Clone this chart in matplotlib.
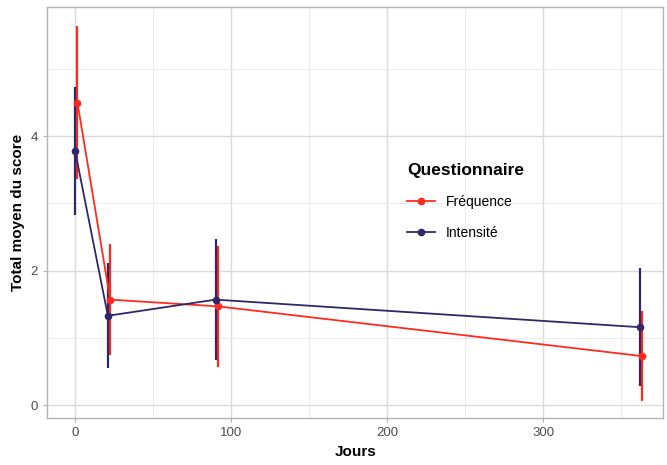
import numpy as np
import matplotlib
matplotlib.use("Agg")
import matplotlib.pyplot as plt

plt.rcParams['font.family'] = ['Liberation Sans', 'DejaVu Sans']

# days
jours = [0, 21, 90, 362]

freq_mean = [4.50, 1.57, 1.47, 0.73]
freq_err = [1.14, 0.83, 0.90, 0.67]

int_mean = [3.78, 1.33, 1.57, 1.16]
int_err = [0.95, 0.78, 0.90, 0.88]

red = '#FF2A1F'
navy = '#2E2966'

fig = plt.figure(figsize=(6.67, 4.65), dpi=100)
ax = fig.add_axes([0.0705, 0.101, 0.924, 0.884])

ax.set_xlim(-18, 377)
ax.set_ylim(-0.19, 5.92)

ax.set_xticks([0, 100, 200, 300])
ax.set_xticks([50, 150, 250, 350], minor=True)
ax.set_yticks([0, 2, 4])
ax.set_yticks([1, 3, 5], minor=True)

ax.grid(which='major', color='#DADADA', lw=1.0)
ax.grid(which='minor', color='#EBEBEB', lw=0.7)
ax.set_axisbelow(True)
for s in ax.spines.values():
    s.set_color('#B3B3B3')
    s.set_linewidth(1.0)
ax.tick_params(which='major', length=3, color='#B3B3B3', labelsize=9.5, labelcolor='#4D4D4D')
ax.tick_params(which='minor', length=0)

# error bars first, then lines
ax.errorbar(np.array(jours) + 1.5, freq_mean, yerr=freq_err, fmt='none', ecolor=red, elinewidth=1.6, capsize=0, zorder=2)
ax.errorbar(jours, int_mean, yerr=int_err, fmt='none', ecolor=navy, elinewidth=1.6, capsize=0, zorder=2)
ax.plot(np.array(jours) + 1.5, freq_mean, color=red, lw=1.3, marker='o', ms=4.5, label='Fréquence', zorder=3)
ax.plot(jours, int_mean, color=navy, lw=1.3, marker='o', ms=4.5, label='Intensité', zorder=3)

ax.set_xlabel('Jours', fontsize=11, fontweight='bold', labelpad=4)
ax.set_ylabel('Total moyen du score', fontsize=11, fontweight='bold', labelpad=4)

leg = ax.legend(title='Questionnaire', loc='upper left', bbox_to_anchor=(0.575, 0.635),
                frameon=False, fontsize=10, title_fontsize=12.5, handlelength=2.0,
                labelspacing=1.25, borderaxespad=0)
leg.get_title().set_fontweight('bold')
leg._legend_box.align = 'left'

fig.savefig('out.png', dpi=100)
